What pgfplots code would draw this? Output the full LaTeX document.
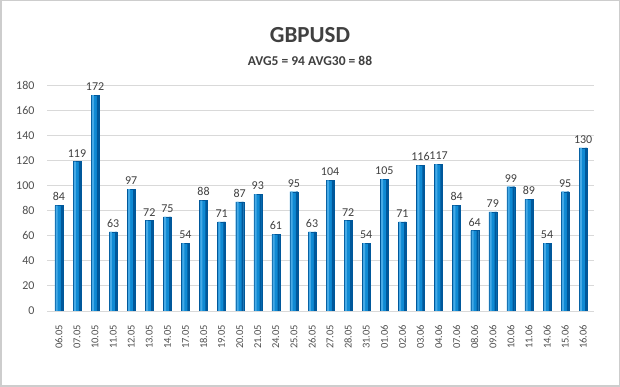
\documentclass[border=0pt]{standalone}
\usepackage{fontspec}
\setmainfont{Carlito}
\usepackage{pgfplots}
\pgfplotsset{compat=1.18}
\usepackage{pgfplotstable}
\definecolor{txt}{RGB}{64,64,64}
\definecolor{ticktxt}{RGB}{80,80,80}
\definecolor{gridc}{RGB}{217,217,217}
\definecolor{framec}{RGB}{205,205,205}
\definecolor{barlight}{RGB}{70,170,230}
\definecolor{barmid}{RGB}{15,138,212}
\definecolor{bardark}{RGB}{0,88,155}
\pgfplotstableread{
x y
0 84
1 119
2 172
3 63
4 97
5 72
6 75
7 54
8 88
9 71
10 87
11 93
12 61
13 95
14 63
15 104
16 72
17 54
18 105
19 71
20 116
21 117
22 84
23 64
24 79
25 99
26 89
27 54
28 95
29 130
}\datatable
\begin{document}
\begin{tikzpicture}
\draw[draw=framec, fill=white, line width=1.5pt] (0.75pt,0.75pt) rectangle (619.25pt,386.25pt);
\node[font=\bfseries\fontsize{23}{26}\selectfont, text=txt] at (310pt,352pt) {GBPUSD};
\node[font=\bfseries\fontsize{13.5}{16}\selectfont, text=txt] at (310pt,326pt) {AVG5 = 94 AVG30 = 88};
\begin{axis}[
  at={(47pt,76pt)}, anchor=south west,
  scale only axis, width=547pt, height=226pt,
  ymin=0, ymax=180, xmin=-0.66, xmax=29.6,
  ytick={0,20,...,180},
  ymajorgrids, major grid style={draw=gridc, line width=0.8pt},
  axis line style={draw=none},
  tick style={draw=none},
  /pgf/number format/assume math mode=true,
  yticklabel style={font=\fontsize{12}{14}\selectfont, text=ticktxt, xshift=-9pt},
  xtick=data,
  xticklabels={06.05,07.05,10.05,11.05,12.05,13.05,14.05,17.05,18.05,19.05,20.05,21.05,24.05,25.05,26.05,27.05,28.05,31.05,01.06,02.06,03.06,04.06,07.06,08.06,09.06,10.06,11.06,14.06,15.06,16.06},
  xticklabel style={rotate=90, anchor=east, font=\fontsize{10.5}{12}\selectfont, text=ticktxt, xshift=-6pt},
  ybar,
]
\addplot[draw=bardark, line width=0.3pt, fill=barmid, bar width=8pt, bar shift=0pt,
  nodes near coords,
  every node near coord/.append style={font=\fontsize{12}{14}\selectfont, text=txt, yshift=1pt}]
  table[x=x,y=y] {\datatable};
\addplot[draw=none, fill=barlight, bar width=2pt, bar shift=-2.2pt] table[x=x,y=y] {\datatable};
\addplot[draw=none, fill=bardark, bar width=2pt, bar shift=2.85pt] table[x=x,y=y] {\datatable};
\end{axis}
\end{tikzpicture}
\end{document}
